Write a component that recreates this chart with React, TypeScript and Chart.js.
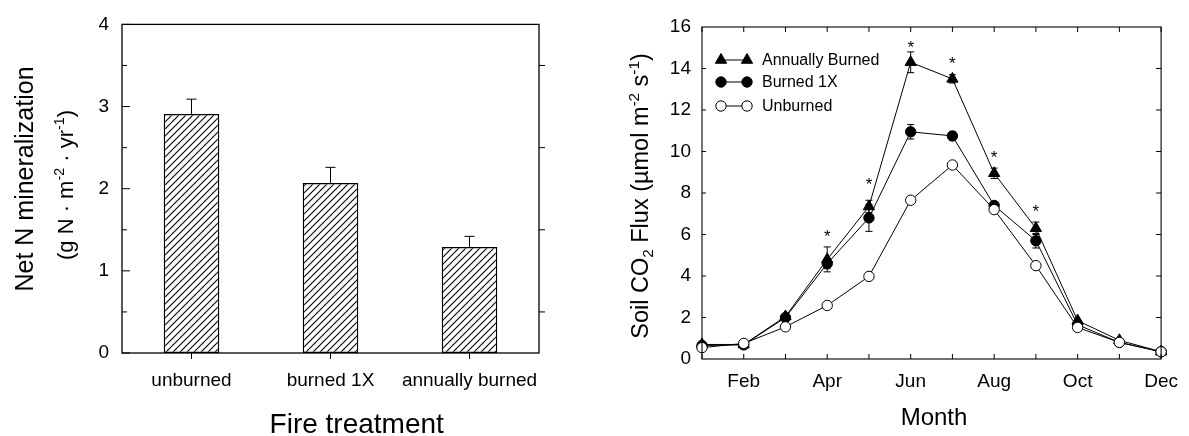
import { useEffect, useRef } from "react";
import { Chart, registerables } from "chart.js";
import { drawPoint } from "chart.js/helpers";

Chart.register(...registerables);

const FONT = "'Liberation Sans', Arial, Helvetica, sans-serif";

// ---------- Left panel: net N mineralization ----------
const treatments = ["unburned", "burned 1X", "annually burned"];
const mineralization = [2.91, 2.07, 1.29];
const mineralizationErr = [0.18, 0.19, 0.13];

// ---------- Right panel: soil CO2 flux ----------
const months = ["Jan", "Feb", "Mar", "Apr", "May", "Jun", "Jul", "Aug", "Sep", "Oct", "Nov", "Dec"];
const annuallyBurned = [0.7, 0.7, 2.05, 4.8, 7.35, 14.3, 13.5, 8.95, 6.3, 1.85, 0.9, 0.35];
const annuallyBurnedErr = [0, 0, 0, 0.6, 0.3, 0.5, 0.2, 0.25, 0.3, 0, 0, 0];
const burned1X = [0.65, 0.68, 2.0, 4.6, 6.8, 10.95, 10.75, 7.4, 5.7, 1.65, 0.8, 0.35];
const burned1XErr = [0, 0, 0, 0.25, 0.65, 0.35, 0.2, 0, 0.35, 0, 0, 0];
const unburned = [0.55, 0.75, 1.55, 2.58, 3.98, 7.65, 9.35, 7.2, 4.5, 1.52, 0.8, 0.35];
const unburnedErr = [0, 0, 0, 0, 0, 0, 0, 0, 0, 0, 0, 0];
const significance: (number | null)[] = [null, null, null, 6.1, 8.6, 15.2, 14.45, 9.9, 7.3, null, null, null];

type Seg = { t: string; sup?: boolean; sub?: boolean };

function drawRich(ctx: CanvasRenderingContext2D, segs: Seg[], cx: number, cy: number, size: number, rotate: boolean) {
  ctx.save();
  ctx.translate(cx, cy);
  if (rotate) ctx.rotate(-Math.PI / 2);
  ctx.textAlign = "left";
  ctx.textBaseline = "alphabetic";
  ctx.fillStyle = "#000";
  const widths = segs.map((s) => {
    ctx.font = `${s.sup || s.sub ? size * 0.65 : size}px ${FONT}`;
    return ctx.measureText(s.t).width;
  });
  const total = widths.reduce((a, b) => a + b, 0);
  let x = -total / 2;
  segs.forEach((s, i) => {
    ctx.font = `${s.sup || s.sub ? size * 0.65 : size}px ${FONT}`;
    const dy = s.sup ? -size * 0.4 : s.sub ? size * 0.22 : 0;
    ctx.fillText(s.t, x, dy);
    x += widths[i];
  });
  ctx.restore();
}

function line(ctx: CanvasRenderingContext2D, x1: number, y1: number, x2: number, y2: number) {
  ctx.beginPath();
  ctx.moveTo(x1, y1);
  ctx.lineTo(x2, y2);
  ctx.stroke();
}

export default function App() {
  const leftRef = useRef<HTMLCanvasElement>(null);
  const rightRef = useRef<HTMLCanvasElement>(null);

  useEffect(() => {
    Chart.defaults.font.family = FONT;
    Chart.defaults.color = "#000";

    // hatch pattern
    const pc = document.createElement("canvas");
    const S = 7;
    pc.width = S;
    pc.height = S;
    const p = pc.getContext("2d")!;
    p.fillStyle = "#fff";
    p.fillRect(0, 0, S, S);
    p.strokeStyle = "#000";
    p.lineWidth = 1.1;
    p.beginPath();
    p.moveTo(0, S);
    p.lineTo(S, 0);
    p.moveTo(-1, 1);
    p.lineTo(1, -1);
    p.moveTo(S - 1, S + 1);
    p.lineTo(S + 1, S - 1);
    p.stroke();
    const hatch = p.createPattern(pc, "repeat")!;

    const noGrid = { display: false, drawTicks: false, tickLength: 0 };

    const leftDecor = {
      id: "leftDecor",
      afterDatasetsDraw(chart: any) {
        const ctx: CanvasRenderingContext2D = chart.ctx;
        const ys = chart.scales.y;
        const meta = chart.getDatasetMeta(0);
        ctx.save();
        ctx.strokeStyle = "#000";
        ctx.lineWidth = 1;
        meta.data.forEach((el: any, i: number) => {
          const v = mineralization[i];
          const top = ys.getPixelForValue(v + mineralizationErr[i]);
          const y0 = ys.getPixelForValue(v);
          line(ctx, el.x, y0, el.x, top);
          line(ctx, el.x - 5, top, el.x + 5, top);
        });
        ctx.restore();
      },
      afterDraw(chart: any) {
        const ctx: CanvasRenderingContext2D = chart.ctx;
        const a = chart.chartArea;
        const ys = chart.scales.y;
        const xs = chart.scales.x;
        ctx.save();
        ctx.strokeStyle = "#000";
        ctx.lineWidth = 1.3;
        ctx.strokeRect(a.left, a.top, a.right - a.left, a.bottom - a.top);
        ctx.lineWidth = 1;
        for (let v = 0; v <= 4.001; v += 0.5) {
          const y = ys.getPixelForValue(v);
          const major = Math.abs(v - Math.round(v)) < 1e-6;
          line(ctx, a.left, y, a.left + (major ? 8 : 5), y);
          if (!major) line(ctx, a.right, y, a.right + 6, y);
        }
        treatments.forEach((_, i) => {
          const x = xs.getPixelForValue(i);
          line(ctx, x, a.bottom, x, a.bottom + 6);
        });
        drawRich(ctx, [{ t: "Net N mineralization" }], 33, 179, 25, true);
        drawRich(
          ctx,
          [{ t: "(g N · m" }, { t: "-2", sup: true }, { t: " · yr" }, { t: "-1", sup: true }, { t: ")" }],
          73,
          185,
          22,
          true
        );
        drawRich(ctx, [{ t: "Fire treatment" }], 356.7, 433, 28, false);
        ctx.restore();
      },
    };

    const left = new Chart(leftRef.current!, {
      type: "bar",
      data: {
        labels: treatments,
        datasets: [
          {
            label: "Net N mineralization",
            data: mineralization,
            backgroundColor: hatch,
            borderColor: "#000",
            borderWidth: 1.5,
            borderSkipped: false,
            barPercentage: 0.4,
            categoryPercentage: 1,
          },
        ],
      },
      options: {
        responsive: false,
        animation: false,
        devicePixelRatio: 1,
        layout: { padding: { left: 0, top: 16, right: 51, bottom: 0 } },
        plugins: { legend: { display: false }, tooltip: { enabled: false } },
        scales: {
          x: {
            grid: noGrid,
            border: { display: false },
            ticks: { font: { size: 19, family: FONT }, color: "#000", padding: 16, autoSkip: false, maxRotation: 0, minRotation: 0 },
            afterFit: (s: any) => {
              s.height = 83;
            },
          },
          y: {
            min: 0,
            max: 4,
            grid: noGrid,
            border: { display: false },
            ticks: { stepSize: 1, font: { size: 19, family: FONT }, color: "#000", padding: 13 },
            afterFit: (s: any) => {
              s.width = 122;
            },
          },
        },
      },
      plugins: [leftDecor],
    } as any);

    const errs = [annuallyBurnedErr, burned1XErr, unburnedErr];
    const vals = [annuallyBurned, burned1X, unburned];

    const rightDecor = {
      id: "rightDecor",
      beforeDatasetsDraw(chart: any) {
        const ctx: CanvasRenderingContext2D = chart.ctx;
        const xs = chart.scales.x;
        const ys = chart.scales.y;
        ctx.save();
        ctx.strokeStyle = "#000";
        ctx.lineWidth = 1;
        vals.forEach((series, d) => {
          series.forEach((v, i) => {
            const e = errs[d][i];
            if (!e) return;
            const x = xs.getPixelForValue(i);
            const y1 = ys.getPixelForValue(v - e);
            const y2 = ys.getPixelForValue(v + e);
            line(ctx, x, y1, x, y2);
            line(ctx, x - 3.5, y1, x + 3.5, y1);
            line(ctx, x - 3.5, y2, x + 3.5, y2);
          });
        });
        ctx.restore();
      },
      afterDraw(chart: any) {
        const ctx: CanvasRenderingContext2D = chart.ctx;
        const a = chart.chartArea;
        const xs = chart.scales.x;
        const ys = chart.scales.y;
        ctx.save();
        ctx.strokeStyle = "#000";
        ctx.lineWidth = 1.1;
        ctx.strokeRect(a.left, a.top, a.right - a.left, a.bottom - a.top);
        ctx.lineWidth = 1;
        for (let v = 2; v < 16; v += 2) {
          const y = ys.getPixelForValue(v);
          line(ctx, a.left, y, a.left + 4, y);
          line(ctx, a.right, y, a.right - 5, y);
        }
        months.forEach((_, i) => {
          const x = xs.getPixelForValue(i);
          line(ctx, x, a.bottom, x, a.bottom - 5);
          line(ctx, x, a.top, x, a.top + 5);
        });
        // significance asterisks
        ctx.fillStyle = "#000";
        ctx.font = `17px ${FONT}`;
        ctx.textAlign = "center";
        ctx.textBaseline = "alphabetic";
        significance.forEach((v, i) => {
          if (v == null) return;
          ctx.fillText("*", xs.getPixelForValue(i), ys.getPixelForValue(v) + 9.7);
        });
        // legend
        const rows = [60, 82, 106];
        chart.data.datasets.forEach((ds: any, d: number) => {
          const y = rows[d];
          ctx.strokeStyle = "#000";
          ctx.lineWidth = 1;
          line(ctx, 131, y, 157, y);
          ctx.fillStyle = ds.pointBackgroundColor;
          ctx.strokeStyle = ds.pointBorderColor;
          ctx.lineWidth = ds.pointBorderWidth;
          drawPoint(ctx, { pointStyle: ds.pointStyle, radius: ds.pointRadius, rotation: 0, borderWidth: ds.pointBorderWidth } as any, 131, y);
          drawPoint(ctx, { pointStyle: ds.pointStyle, radius: ds.pointRadius, rotation: 0, borderWidth: ds.pointBorderWidth } as any, 157, y);
          ctx.fillStyle = "#000";
          ctx.font = `16px ${FONT}`;
          ctx.textAlign = "left";
          ctx.textBaseline = "middle";
          ctx.fillText(ds.label, 172, y + 1);
        });
        drawRich(
          ctx,
          [
            { t: "Soil CO" },
            { t: "2", sub: true },
            { t: " Flux (µmol m" },
            { t: "-2", sup: true },
            { t: " s" },
            { t: "-1", sup: true },
            { t: ")" },
          ],
          58.3,
          196,
          23.5,
          true
        );
        drawRich(ctx, [{ t: "Month" }], 344, 425, 24, false);
        ctx.restore();
      },
    };

    const common = { borderColor: "#000", borderWidth: 1, pointBorderColor: "#000", pointBorderWidth: 1, tension: 0, clip: false, fill: false };

    const right = new Chart(rightRef.current!, {
      type: "line",
      data: {
        labels: months,
        datasets: [
          { ...common, label: "Annually Burned", data: annuallyBurned, pointStyle: "triangle", pointRadius: 6.5, pointBackgroundColor: "#000", order: 1 },
          { ...common, label: "Burned 1X", data: burned1X, pointStyle: "circle", pointRadius: 5.2, pointBackgroundColor: "#000", order: 2 },
          { ...common, label: "Unburned", data: unburned, pointStyle: "circle", pointRadius: 5.2, pointBackgroundColor: "#fff", order: 0 },
        ],
      },
      options: {
        responsive: false,
        animation: false,
        devicePixelRatio: 1,
        layout: { padding: { left: 0, top: 27, right: 23, bottom: 0 } },
        plugins: { legend: { display: false }, tooltip: { enabled: false } },
        scales: {
          x: {
            type: "category",
            offset: false,
            grid: noGrid,
            border: { display: false },
            ticks: {
              font: { size: 19, family: FONT },
              color: "#000",
              padding: 11,
              autoSkip: false,
              maxRotation: 0,
              minRotation: 0,
              callback: (_v: any, i: number) => (i % 2 === 1 ? months[i] : ""),
            },
            afterFit: (s: any) => {
              s.height = 77;
            },
          },
          y: {
            min: 0,
            max: 16,
            grid: noGrid,
            border: { display: false },
            ticks: { stepSize: 2, font: { size: 19, family: FONT }, color: "#000", padding: 11 },
            afterFit: (s: any) => {
              s.width = 112;
            },
          },
        },
      },
      plugins: [rightDecor],
    } as any);

    return () => {
      left.destroy();
      right.destroy();
    };
  }, []);

  return (
    <div style={{ position: "absolute", left: 0, top: 0, width: 1189, height: 436, background: "#fff" }}>
      <canvas ref={leftRef} width={590} height={436} style={{ position: "absolute", left: 0, top: 0, width: 590, height: 436 }} />
      <canvas ref={rightRef} width={599} height={436} style={{ position: "absolute", left: 590, top: 0, width: 599, height: 436 }} />
    </div>
  );
}
